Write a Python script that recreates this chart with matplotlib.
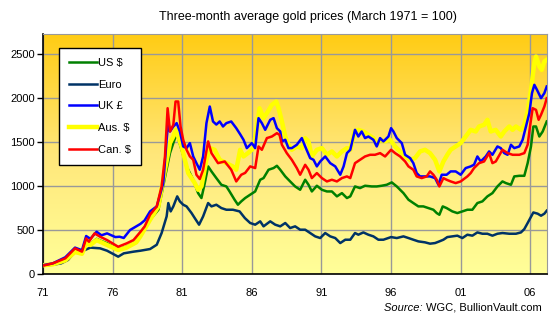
import numpy as np
import matplotlib
matplotlib.use('Agg')
import matplotlib.pyplot as plt
from matplotlib.colors import LinearSegmentedColormap

plt.rcParams['font.family'] = ['Liberation Sans', 'DejaVu Sans']

# three-month average gold price, March 1971 = 100
us_years = [1971.0, 1971.7, 1972.3, 1972.6, 1973.3, 1973.8, 1974.1, 1974.4, 1974.85, 1975.2,
            1975.6, 1976.4, 1977.0, 1977.7, 1978.0, 1978.69, 1979.29, 1979.76, 1980.12, 1980.36,
            1980.6, 1980.95, 1981.31, 1981.79, 1982.14, 1982.38, 1982.62, 1982.86, 1983.1, 1983.45,
            1983.81, 1984.17, 1984.4, 1984.76, 1985.0, 1985.24, 1985.52, 1985.88, 1986.24, 1986.6,
            1986.84, 1987.2, 1987.56, 1987.8, 1988.04, 1988.4, 1988.75, 1989.11, 1989.47, 1989.83,
            1990.07, 1990.31, 1990.67, 1991.03, 1991.39, 1991.75, 1992.11, 1992.47, 1992.83, 1993.07,
            1993.41, 1993.77, 1994.13, 1994.61, 1994.97, 1995.33, 1995.69, 1996.05, 1996.41, 1996.89,
            1997.25, 1997.6, 1997.96, 1998.32, 1998.68, 1999.04, 1999.28, 1999.47, 1999.71, 1999.99,
            2000.4, 2000.76, 2001.12, 2001.48, 2001.84, 2002.2, 2002.56, 2002.92, 2003.28, 2003.64,
            2004.0, 2004.25, 2004.61, 2004.85, 2005.21, 2005.57, 2005.81, 2006.05, 2006.22, 2006.41,
            2006.65, 2006.89, 2007.18]
us_vals = [100, 115, 140, 165, 265, 240, 365, 340, 400, 375,
           350, 280, 310, 370, 470, 617, 731, 1100, 1375, 1489,
           1600, 1413, 1224, 1072, 920, 864, 1034, 1224, 1167, 1091,
           1015, 996, 939, 845, 788, 826, 864, 902, 939, 1072,
           1091, 1186, 1205, 1231, 1186, 1110, 1053, 996, 958, 1072,
           1015, 939, 1004, 958, 939, 939, 883, 920, 864, 883,
           996, 977, 1004, 996, 996, 1004, 1015, 1042, 996, 920,
           845, 807, 769, 769, 750, 731, 693, 674, 769, 750,
           712, 693, 712, 731, 731, 807, 826, 883, 920, 996,
           1053, 1034, 1015, 1110, 1117, 1117, 1261, 1451, 1678, 1678,
           1564, 1621, 1735]

euro_years = [1971.0, 1971.7, 1972.3, 1972.8, 1973.3, 1973.9, 1974.4, 1975.1, 1975.6, 1976.4,
              1976.8, 1977.5, 1978.0, 1978.69, 1979.17, 1979.52, 1979.88, 1980.0, 1980.17, 1980.36,
              1980.64, 1980.83, 1981.07, 1981.31, 1981.67, 1981.9, 1982.21, 1982.5, 1982.86, 1983.1,
              1983.45, 1983.81, 1984.17, 1984.64, 1985.12, 1985.5, 1985.88, 1986.24, 1986.6, 1986.84,
              1987.32, 1987.68, 1988.04, 1988.4, 1988.75, 1989.11, 1989.47, 1989.83, 1990.19, 1990.55,
              1990.91, 1991.27, 1991.63, 1991.99, 1992.35, 1992.71, 1993.07, 1993.41, 1993.65, 1994.01,
              1994.37, 1994.73, 1995.09, 1995.45, 1996.0, 1996.41, 1996.89, 1997.25, 1997.6, 1997.96,
              1998.44, 1998.8, 1999.16, 1999.47, 1999.76, 2000.04, 2000.4, 2000.76, 2001.12, 2001.48,
              2001.84, 2002.2, 2002.56, 2002.92, 2003.28, 2003.64, 2004.0, 2004.49, 2004.97, 2005.33,
              2005.57, 2005.81, 2006.0, 2006.22, 2006.53, 2006.77, 2007.01, 2007.18]
euro_vals = [100, 105, 121, 160, 254, 265, 300, 292, 265, 197,
             235, 254, 265, 284, 333, 466, 655, 807, 712, 769,
             883, 826, 788, 769, 693, 636, 561, 655, 807, 769,
             788, 750, 731, 731, 712, 636, 580, 561, 599, 542,
             599, 561, 542, 580, 523, 542, 504, 504, 466, 428,
             409, 466, 428, 409, 352, 390, 390, 466, 447, 473,
             447, 428, 390, 390, 420, 409, 428, 409, 390, 371,
             360, 345, 352, 371, 390, 420, 428, 436, 409, 447,
             436, 473, 458, 458, 436, 458, 466, 458, 458, 473,
             511, 580, 636, 700, 686, 663, 686, 720]

uk_years = [1971.0, 1971.7, 1972.6, 1973.3, 1973.8, 1974.1, 1974.4, 1974.85, 1975.2, 1975.6,
            1976.2, 1976.5, 1976.8, 1977.25, 1978.0, 1978.3, 1978.69, 1979.17, 1979.64, 1979.88,
            1980.0, 1980.12, 1980.36, 1980.6, 1980.83, 1981.07, 1981.31, 1981.55, 1981.79, 1982.02,
            1982.26, 1982.5, 1982.74, 1982.98, 1983.21, 1983.45, 1983.69, 1983.93, 1984.17, 1984.52,
            1984.88, 1985.16, 1985.4, 1985.64, 1986.0, 1986.24, 1986.48, 1986.72, 1986.96, 1987.32,
            1987.56, 1987.8, 1988.04, 1988.16, 1988.4, 1988.63, 1988.87, 1989.23, 1989.59, 1989.83,
            1990.19, 1990.43, 1990.67, 1990.91, 1991.27, 1991.63, 1991.99, 1992.35, 1992.59, 1992.83,
            1993.07, 1993.41, 1993.65, 1993.89, 1994.13, 1994.37, 1994.73, 1994.97, 1995.21, 1995.45,
            1995.81, 1996.0, 1996.17, 1996.41, 1996.77, 1997.01, 1997.37, 1997.6, 1997.84, 1998.08,
            1998.44, 1998.8, 1999.16, 1999.4, 1999.64, 1999.99, 2000.28, 2000.64, 2001.0, 2001.36,
            2001.72, 2001.96, 2002.2, 2002.44, 2002.8, 2003.04, 2003.28, 2003.64, 2003.88, 2004.13,
            2004.37, 2004.61, 2004.85, 2005.21, 2005.45, 2005.69, 2005.93, 2006.12, 2006.29, 2006.48,
            2006.77, 2007.01, 2007.18]
uk_vals = [100, 121, 190, 300, 270, 432, 400, 481, 440, 462,
           420, 424, 410, 500, 570, 610, 712, 769, 1034, 1527,
           1735, 1621, 1678, 1716, 1621, 1451, 1432, 1489, 1337, 1261,
           1186, 1337, 1716, 1905, 1735, 1700, 1735, 1678, 1716, 1735,
           1659, 1590, 1527, 1432, 1489, 1432, 1773, 1716, 1640, 1754,
           1773, 1659, 1621, 1508, 1527, 1432, 1432, 1470, 1546, 1451,
           1318, 1299, 1224, 1280, 1337, 1261, 1224, 1129, 1224, 1375,
           1413, 1640, 1564, 1621, 1546, 1564, 1527, 1451, 1546, 1508,
           1564, 1659, 1621, 1546, 1489, 1356, 1318, 1261, 1148, 1110,
           1110, 1110, 1091, 1015, 1129, 1129, 1167, 1167, 1129, 1205,
           1224, 1243, 1337, 1280, 1337, 1394, 1356, 1451, 1432, 1375,
           1356, 1470, 1432, 1451, 1527, 1678, 1830, 2057, 2152, 2095,
           2000, 2057, 2133]

aus_years = [1971.0, 1971.7, 1972.6, 1973.3, 1973.8, 1974.1, 1974.4, 1974.85, 1975.2, 1975.6,
             1976.4, 1977.0, 1977.7, 1978.0, 1978.69, 1979.29, 1979.76, 1980.12, 1980.36, 1980.52,
             1980.71, 1980.95, 1981.19, 1981.43, 1981.67, 1981.9, 1982.14, 1982.38, 1982.74, 1982.98,
             1983.33, 1983.69, 1984.17, 1984.64, 1984.88, 1985.16, 1985.4, 1985.76, 1986.12, 1986.36,
             1986.55, 1986.84, 1987.08, 1987.44, 1987.75, 1987.92, 1988.16, 1988.4, 1988.63, 1988.87,
             1989.23, 1989.59, 1989.83, 1990.07, 1990.31, 1990.67, 1991.03, 1991.39, 1991.75, 1992.11,
             1992.47, 1992.83, 1993.07, 1993.37, 1993.65, 1994.01, 1994.37, 1994.73, 1994.97, 1995.21,
             1995.57, 1995.93, 1996.29, 1996.65, 1997.01, 1997.37, 1997.72, 1998.08, 1998.44, 1998.8,
             1999.16, 1999.47, 1999.76, 2000.04, 2000.28, 2000.64, 2001.0, 2001.36, 2001.72, 2002.08,
             2002.32, 2002.68, 2002.92, 2003.16, 2003.52, 2003.88, 2004.13, 2004.49, 2004.73, 2004.97,
             2005.33, 2005.57, 2005.81, 2006.05, 2006.29, 2006.41, 2006.65, 2006.82, 2007.01, 2007.18]
aus_vals = [100, 110, 155, 250, 230, 350, 330, 386, 360, 330,
            273, 300, 360, 430, 617, 769, 1186, 1489, 1564, 1640,
            1564, 1451, 1299, 1148, 1091, 1034, 958, 996, 1299, 1432,
            1413, 1299, 1261, 1223, 1186, 1413, 1337, 1380, 1432, 1678,
            1886, 1773, 1830, 1924, 1962, 1886, 1735, 1564, 1470, 1413,
            1451, 1432, 1546, 1508, 1337, 1413, 1432, 1356, 1394, 1337,
            1394, 1432, 1413, 1621, 1640, 1621, 1583, 1546, 1470, 1527,
            1508, 1527, 1451, 1394, 1337, 1299, 1318, 1394, 1413, 1375,
            1299, 1167, 1280, 1356, 1413, 1451, 1489, 1564, 1640, 1621,
            1678, 1697, 1754, 1621, 1640, 1564, 1621, 1678, 1640, 1678,
            1640, 1697, 1849, 2095, 2398, 2474, 2360, 2322, 2417, 2436]

can_years = [1971.0, 1971.7, 1972.6, 1973.3, 1973.8, 1974.1, 1974.3, 1974.7, 1975.1, 1975.6,
             1976.4, 1977.0, 1977.5, 1978.0, 1978.3, 1978.69, 1979.17, 1979.52, 1979.76, 1979.95,
             1980.12, 1980.36, 1980.52, 1980.71, 1980.88, 1981.07, 1981.31, 1981.55, 1981.79, 1982.02,
             1982.26, 1982.5, 1982.86, 1983.1, 1983.57, 1984.05, 1984.52, 1984.88, 1985.24, 1985.52,
             1985.88, 1986.24, 1986.48, 1986.72, 1987.08, 1987.44, 1987.8, 1987.99, 1988.16, 1988.51,
             1988.87, 1989.23, 1989.47, 1989.83, 1990.07, 1990.31, 1990.67, 1991.03, 1991.39, 1991.75,
             1992.11, 1992.47, 1992.83, 1993.07, 1993.41, 1993.77, 1994.13, 1994.49, 1994.85, 1995.21,
             1995.57, 1996.0, 1996.29, 1996.65, 1997.01, 1997.25, 1997.6, 1997.84, 1998.2, 1998.56,
             1998.8, 1999.04, 1999.28, 1999.47, 1999.76, 1999.99, 2000.28, 2000.64, 2001.0, 2001.48,
             2001.72, 2001.96, 2002.32, 2002.68, 2003.04, 2003.28, 2003.52, 2004.0, 2004.37, 2004.73,
             2005.21, 2005.57, 2005.81, 2005.98, 2006.17, 2006.41, 2006.6, 2006.77, 2007.01, 2007.18]
can_vals = [95, 121, 178, 292, 254, 405, 367, 462, 424, 386,
            310, 348, 386, 480, 540, 674, 769, 996, 1337, 1886,
            1621, 1697, 1962, 1962, 1678, 1527, 1413, 1337, 1299, 1129,
            1080, 1186, 1508, 1375, 1261, 1280, 1186, 1053, 1129, 1150,
            1224, 1205, 1451, 1413, 1546, 1564, 1602, 1583, 1470, 1375,
            1299, 1205, 1129, 1242, 1186, 1091, 1148, 1091, 1053, 1072,
            1053, 1091, 1110, 1091, 1261, 1299, 1337, 1356, 1356, 1375,
            1337, 1413, 1375, 1337, 1280, 1224, 1186, 1110, 1091, 1110,
            1167, 1129, 1072, 996, 1091, 1072, 1053, 1034, 1053, 1110,
            1148, 1205, 1261, 1280, 1375, 1261, 1280, 1413, 1375, 1356,
            1356, 1375, 1470, 1678, 1886, 1867, 1754, 1811, 1905, 2000]

year_ticks = [1971, 1976, 1981, 1986, 1991, 1996, 2001, 2006]
year_labels = ['71', '76', '81', '86', '91', '96', '01', '06']

fig = plt.figure(figsize=(5.6, 3.21), dpi=100)
fig.patch.set_facecolor('white')
ax = fig.add_axes([43 / 560, 1 - 274 / 321, 504 / 560, 240 / 321])

# vertical gradient background
grad = LinearSegmentedColormap.from_list('bg', ['#FFFF99', '#FFE77A', '#FFCC14'])
ax.imshow(np.linspace(0, 1, 256).reshape(-1, 1), cmap=grad, origin='lower', aspect='auto',
          extent=[0, 1, 0, 1], transform=ax.transAxes, zorder=0)

ax.plot(us_years, us_vals, color='#008000', lw=1.8, label='US $', zorder=3)
ax.plot(euro_years, euro_vals, color='#003366', lw=1.8, label='Euro', zorder=3)
ax.plot(uk_years, uk_vals, color='#0000FF', lw=1.8, label='UK £', zorder=5)
ax.plot(aus_years, aus_vals, color='#FFFF00', lw=3.2, label='Aus. $', zorder=4)
ax.plot(can_years, can_vals, color='#FF0000', lw=1.8, label='Can. $', zorder=6)

ax.set_xlim(1971, 2007.2)
ax.set_ylim(0, 2730)
ax.set_xticks(year_ticks)
ax.set_xticklabels(year_labels)
ax.set_yticks([0, 500, 1000, 1500, 2000, 2500])
ax.grid(True, color='#999999', lw=1.0)
ax.set_axisbelow('line')
ax.tick_params(axis='x', length=0, pad=10, labelsize=8)
ax.tick_params(axis='y', length=4, width=1, pad=2, labelsize=8, direction='out')
for s in ['left', 'bottom']:
    ax.spines[s].set_color('black')
    ax.spines[s].set_linewidth(1.2)
for s in ['top', 'right']:
    ax.spines[s].set_color('#999999')

leg = ax.legend(loc='upper left', bbox_to_anchor=(16 / 504, 1 - 14 / 240), borderaxespad=0,
                fontsize=8, frameon=True, fancybox=False, edgecolor='black', framealpha=1,
                handlelength=2.5, handletextpad=0.1, labelspacing=1.05, borderpad=0.9)
leg.get_frame().set_linewidth(1.0)
leg.set_zorder(10)

fig.text(308 / 560, 1 - 17 / 321, 'Three-month average gold prices (March 1971 = 100)',
         ha='center', va='center', fontsize=9)

fig.canvas.draw()
src = fig.text(542 / 560, 1 - 308 / 321, 'WGC, BullionVault.com', ha='right', va='center', fontsize=8)
bb = src.get_window_extent(fig.canvas.get_renderer())
fig.text(bb.x0 / fig.bbox.width, 1 - 308 / 321, 'Source: ', ha='right', va='center',
         fontsize=8, style='italic')

fig.savefig('out.png', dpi=100)
